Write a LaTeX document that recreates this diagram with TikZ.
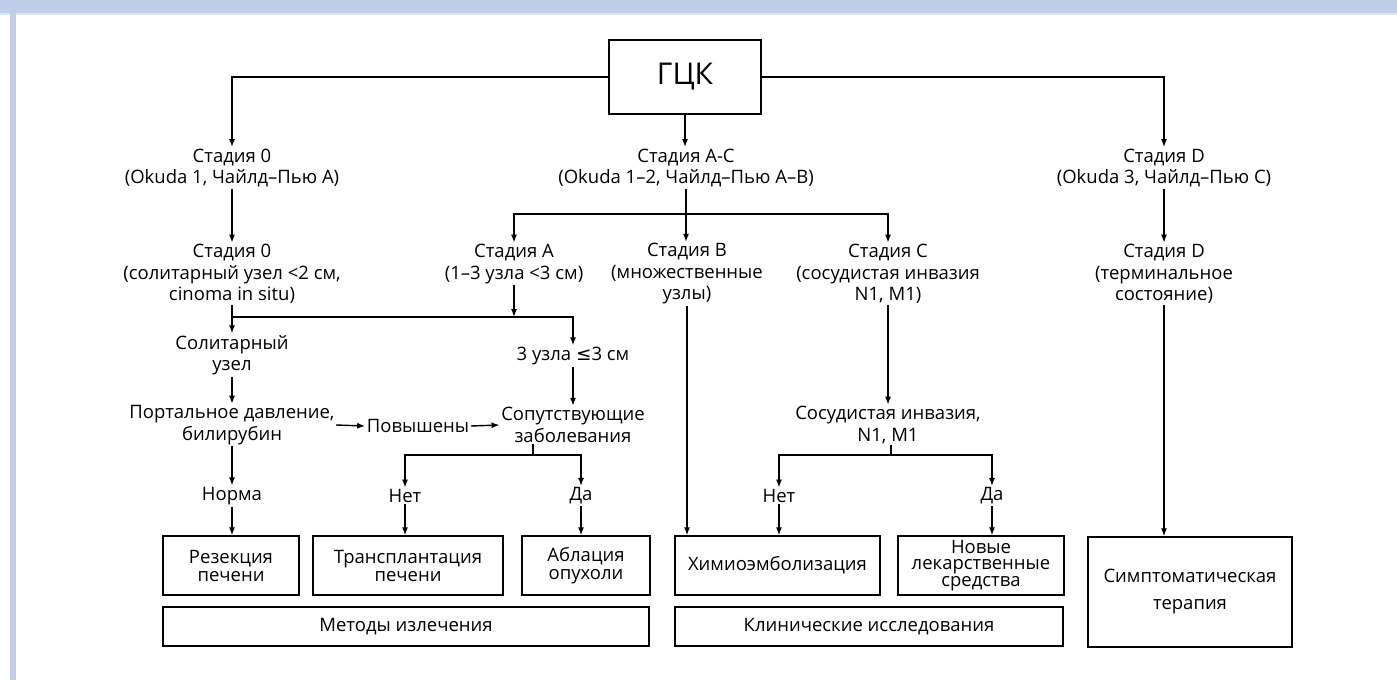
\documentclass[tikz,border=0pt]{standalone}
\usepackage{fontspec}
\setmainfont{Open Sans}
\newfontfamily\simbolos{DejaVu Sans}
\usepackage{xcolor}
\usetikzlibrary{arrows.meta,positioning}
\definecolor{franja}{HTML}{BFCEEA}
\definecolor{franjaclara}{HTML}{DCE5F5}

\begin{document}
\begin{tikzpicture}[x=1pt,y=-1pt,line width=1.4pt,>={Latex[length=8pt,width=6pt]},
    txt/.style={align=center,inner sep=1pt,font=\fontsize{18.5}{21.5}\selectfont},
    caja/.style={draw,align=center,inner sep=2pt,font=\fontsize{18.5}{18}\selectfont}]
        % fondo y franjas
        \useasboundingbox (0,0) rectangle (1397,680);
        \fill[white] (0,0) rectangle (1397,680);
        \fill[franja] (0,0) rectangle (1397,13);
        \fill[franjaclara] (0,13) rectangle (1397,15);
        \fill[franja] (10,13) rectangle (16,680);
        % raiz
        \node[draw,minimum width=152pt,minimum height=74pt,font=\fontsize{30}{34}\selectfont] (gck) at (685,77) {ГЦК};
        % estadios
        \node[txt] (s0a) at (232,168) {Стадия 0\\(Okuda 1, Чайлд–Пью A)};
        \node[txt] (sac) at (686,168) {Стадия A-C\\(Okuda 1–2, Чайлд–Пью A–B)};
        \node[txt] (sda) at (1164,168) {Стадия D\\(Okuda 3, Чайлд–Пью C)};
        \node[txt] (s0b) at (232,274) {Стадия 0\\(солитарный узел <2 см,\\cinoma in situ)};
        \node[txt] (sa) at (514,264) {Стадия A\\(1–3 узла <3 см)};
        \node[txt] (sb) at (687,274) {Стадия B\\(множественные\\узлы)};
        \node[txt] (sc) at (888,274) {Стадия C\\(сосудистая инвазия\\N1, M1)};
        \node[txt] (sdb) at (1164,274) {Стадия D\\(терминальное\\состояние)};
        % nivel medio
        \node[txt] (sol) at (232,355) {Солитарный\\узел};
        \node[txt] (tres) at (573,356) {3 узла {\simbolos ≤}3 см};
        \node[txt] (port) at (232,425) {Портальное давление,\\билирубин};
        \node[txt] (pov) at (418,426) {Повышены};
        \node[txt] (sop) at (573,425) {Сопутствующие\\заболевания};
        \node[txt] (inv) at (888,425) {Сосудистая инвазия,\\N1, M1};
        \node[txt] (norma) at (232,496) {Норма};
        \node[txt] (net1) at (405,496) {Нет};
        \node[txt] (da1) at (581,496) {Да};
        \node[txt] (net2) at (779,496) {Нет};
        \node[txt] (da2) at (992,496) {Да};
        % tratamientos
        \node[caja,minimum width=136pt,minimum height=59pt] (rez) at (231,565.5) {Резекция\\печени};
        \node[caja,minimum width=190pt,minimum height=59pt] (trans) at (408,565.5) {Трансплантация\\печени};
        \node[caja,minimum width=128pt,minimum height=59pt] (abl) at (586,565.5) {Аблация\\опухоли};
        \node[caja,minimum width=205pt,minimum height=59pt] (him) at (777.5,565.5) {Химиоэмболизация};
        \node[caja,minimum width=166pt,minimum height=59pt,font=\fontsize{18.5}{16.5}\selectfont] (nov) at (981,565.5) {Новые\\лекарственные\\средства};
        \node[caja,minimum width=204pt,minimum height=110pt,font=\fontsize{18.5}{27}\selectfont] (simp) at (1190,592) {Симптоматическая\\терапия};
        \node[caja,minimum width=486pt,minimum height=39pt] (met) at (406,626.5) {Методы излечения};
        \node[caja,minimum width=388pt,minimum height=39pt] (kli) at (869,626.5) {Клинические исследования};
        % puntos de bifurcacion
        \coordinate (bac) at (686,214);
        \coordinate (b0) at (232,317);
        \coordinate (bsop) at (533,455);
        \coordinate (binv) at (891,455);
        % conexiones
        \draw[->] (gck.west) -| (s0a.north);
        \draw[->] (gck.east) -| (sda.north);
        \draw[->] (gck.south) -- (gck.south |- sac.north);
        \draw[->] (sac.south) -- (sac.south |- sb.north);
        \draw[->] (bac) -| (sa.north);
        \draw[->] (bac) -| (sc.north);
        \draw[->] (s0a) -- (s0b);
        \draw[->] (s0b) -- (sol);
        \draw[->] (b0) -| (tres.north);
        \draw[->] (sa.south) -- (sa.south |- b0);
        \draw[->] (sol) -- (port);
        \draw[->] (port) -- (norma);
        \draw[->] (norma) -- (norma |- rez.north);
        \draw[->] (port.east) -- (pov.west);
        \draw[->] (pov.east) -- (sop.west);
        \draw[->] (tres) -- (sop);
        \draw (sop.south -| bsop) -- (bsop);
        \draw[->] (bsop) -| (net1.north);
        \draw[->] (bsop) -| (da1.north);
        \draw[->] (net1.south) -- (net1.south |- trans.north);
        \draw[->] (da1.south) -- (da1.south |- abl.north);
        \draw[->] (sc.south -| inv) -- (inv.north);
        \draw (inv.south -| binv) -- (binv);
        \draw[->] (binv) -| (net2.north);
        \draw[->] (binv) -| (da2.north);
        \draw[->] (sb.south) -- (sb.south |- him.north);
        \draw[->] (net2.south) -- (net2.south |- him.north);
        \draw[->] (da2.south) -- (da2.south |- nov.north);
        \draw[->] (sda) -- (sdb);
        \draw[->] (sdb.south) -- (sdb.south |- simp.north);
\end{tikzpicture}
\end{document}
